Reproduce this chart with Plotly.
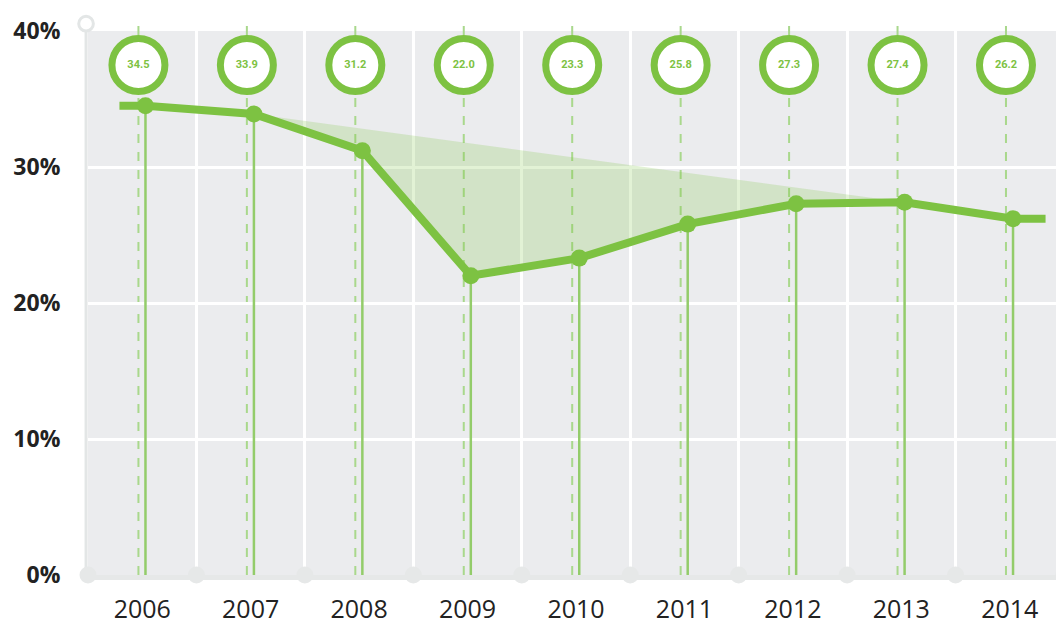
import plotly.graph_objects as go

# ---- data ----
years = ["2006", "2007", "2008", "2009", "2010", "2011", "2012", "2013", "2014"]
values = [34.5, 33.9, 31.2, 22.0, 23.3, 25.8, 27.3, 27.4, 26.2]
labels = ["34.5", "33.9", "31.2", "22.0", "23.3", "25.8", "27.3", "27.4", "26.2"]
y_ticks = [0, 10, 20, 30, 40]
y_tick_text = ["0%", "10%", "20%", "30%", "40%"]
shade_from, shade_to = 1, 7  # 2007 .. 2013 gap area

# ---- style ----
GREEN = "#7dc242"
BG = "#ebecee"
AXIS_GREY = "#e3e6e6"
PT_OFF = 0.03
DASH_OFF = -0.035
LABEL_Y = 37.5
LINE_PAD_L, LINE_PAD_R = 0.24, 0.3

n = len(years)
xs = list(range(n))
px = [x + PT_OFF for x in xs]

fig = go.Figure()

# shaded gap area
sx = [px[i] for i in range(shade_from, shade_to + 1)] + [px[shade_from]]
sy = [values[i] for i in range(shade_from, shade_to + 1)] + [values[shade_from]]
fig.add_trace(go.Scatter(x=sx, y=sy, fill="toself", mode="lines",
                         line=dict(width=0), fillcolor="rgba(125,194,66,0.22)",
                         hoverinfo="skip"))

# solid drop lines
dx, dy = [], []
for x, v in zip(px, values):
    dx += [x, x, None]
    dy += [v, 0, None]
fig.add_trace(go.Scatter(x=dx, y=dy, mode="lines",
                         line=dict(color="#93cc6a", width=2.5), hoverinfo="skip"))

# main line with extended ends
lx = [px[0] - LINE_PAD_L] + px + [px[-1] + LINE_PAD_R]
ly = [values[0]] + values + [values[-1]]
fig.add_trace(go.Scatter(x=lx, y=ly, mode="lines", line=dict(color=GREEN, width=8),
                         hoverinfo="skip"))
fig.add_trace(go.Scatter(x=px, y=values, mode="markers",
                         marker=dict(color=GREEN, size=17), hoverinfo="skip"))

# bottom axis dots
bx = [i - 0.5 for i in range(n + 1)]
fig.add_trace(go.Scatter(x=bx, y=[0] * len(bx), mode="markers", cliponaxis=False,
                         marker=dict(color="#e6e8e8", size=17), hoverinfo="skip"))

# label bubbles
fig.add_trace(go.Scatter(x=[x + DASH_OFF for x in xs], y=[LABEL_Y] * n,
                         mode="markers+text", text=labels, cliponaxis=False,
                         textposition="middle center",
                         textfont=dict(color=GREEN, size=11, family="Roboto", weight="bold"),
                         marker=dict(color="white", size=53,
                                     line=dict(color=GREEN, width=7)),
                         hoverinfo="skip"))

shapes = []
for x in xs:
    shapes.append(dict(type="line", xref="x", yref="paper", x0=x + DASH_OFF, x1=x + DASH_OFF,
                       y0=0, y1=1.02, layer="between",
                       line=dict(color="#a9d88c", width=2, dash="dash")))
# left axis line and top hollow circle
shapes.append(dict(type="line", xref="paper", yref="paper", x0=-0.002, x1=-0.002, y0=0, y1=1.005,
                   layer="between", line=dict(color=AXIS_GREY, width=3)))
shapes.append(dict(type="circle", xref="paper", yref="paper",
                   x0=-0.0095, x1=0.0055, y0=1.0, y1=1.027, layer="above",
                   fillcolor="white", line=dict(color=AXIS_GREY, width=3)))

fig.update_layout(
    width=1056, height=616,
    margin=dict(l=80, r=0, t=23, b=49),
    paper_bgcolor="white", plot_bgcolor=BG,
    showlegend=False,
    shapes=shapes,
    xaxis=dict(range=[-0.5, 8.5], tickvals=xs, ticktext=years, automargin=False,
               showgrid=False, zeroline=False, showline=True,
               linecolor="#e6e8e8", linewidth=5,
               ticks="outside", ticklen=8, tickcolor="rgba(0,0,0,0)",
               tickfont=dict(family="Open Sans", size=25, color="#222222"),
               minor=dict(tickvals=[i - 0.5 for i in range(1, n)], showgrid=True,
                          gridcolor="white", gridwidth=2.5, ticks="")),
    yaxis=dict(range=[0, 40], tickvals=y_ticks, ticktext=y_tick_text, automargin=False,
               showgrid=True, gridcolor="white", gridwidth=3, zeroline=False,
               ticks="outside", ticklen=22, tickcolor="rgba(0,0,0,0)",
               tickfont=dict(family="Open Sans", size=23, color="#222222", weight="bold")),
)

fig.write_html("out.html")
